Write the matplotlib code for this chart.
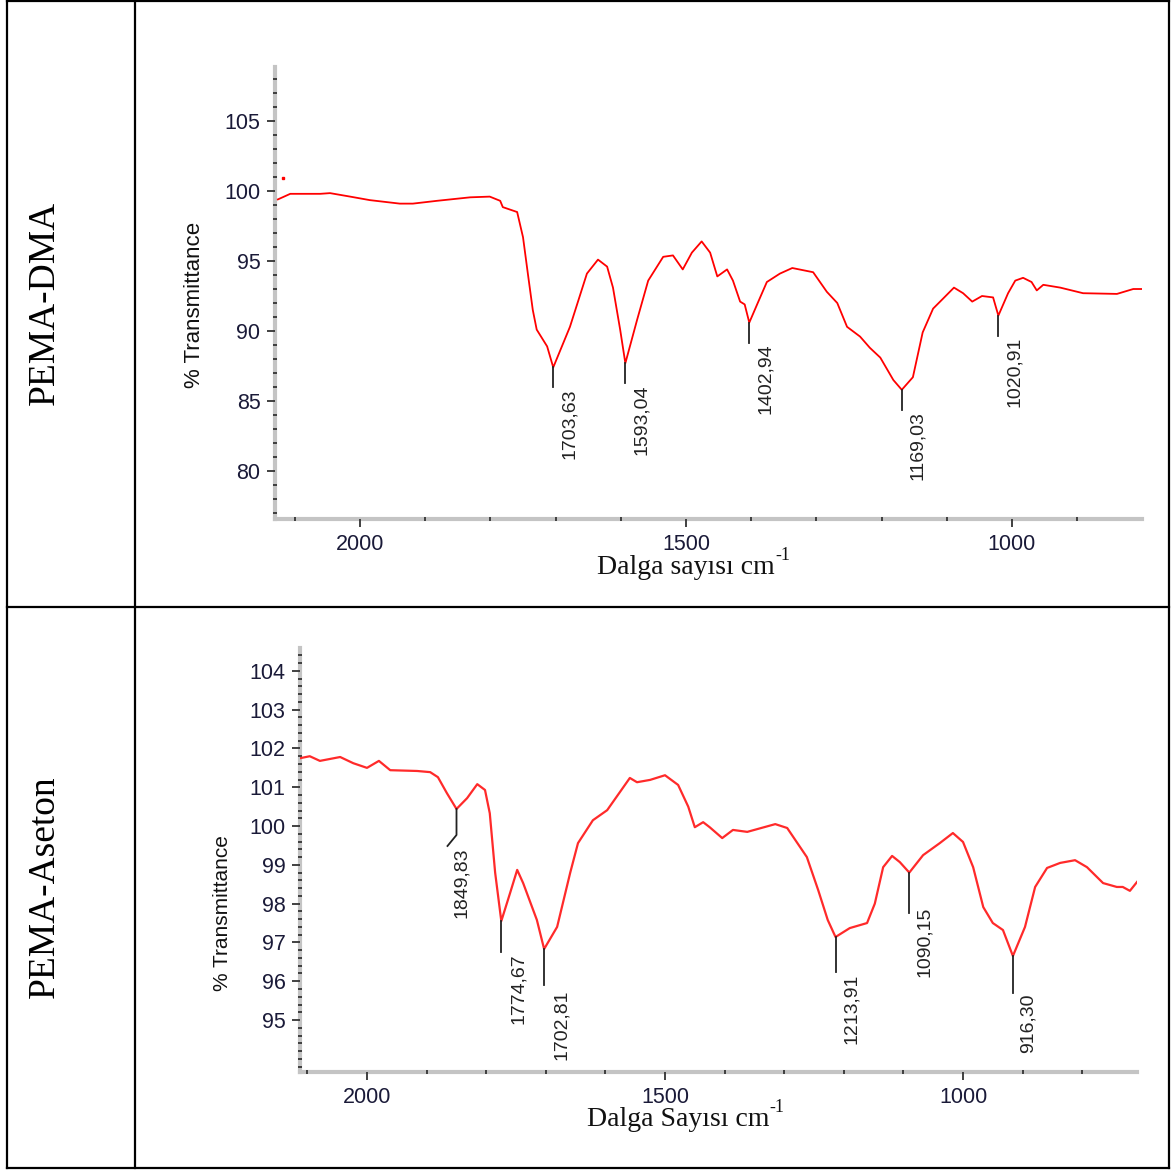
import numpy as np
import matplotlib
matplotlib.use('Agg')
import matplotlib.pyplot as plt
from matplotlib.lines import Line2D
from matplotlib.ticker import MultipleLocator, FixedLocator

plt.rcParams['font.family'] = ['Liberation Sans', 'DejaVu Sans']

# PEMA-DMA spektrumu (dalga sayisi, % gecirgenlik)
dma_wn = [2126, 2107, 2061, 2046, 2015, 1985, 1939, 1919, 1882, 1831, 1801, 1785, 1781,
          1759, 1750, 1742, 1735, 1729, 1713, 1703.63, 1678, 1652, 1635, 1621, 1612, 1601,
          1593.04, 1575, 1558, 1535, 1520, 1505, 1491, 1476, 1463, 1452, 1437, 1428, 1417,
          1410, 1402.94, 1390, 1376, 1356, 1337, 1305, 1284, 1268, 1253, 1233, 1218, 1202,
          1182, 1169.03, 1152, 1137, 1121, 1106, 1089, 1075, 1061, 1046, 1029, 1020.91,
          1006, 995, 983, 970, 962, 952, 926, 891, 839, 814, 801]
dma_T = [99.4, 99.8, 99.8, 99.85, 99.6, 99.35, 99.1, 99.1, 99.3, 99.55, 99.6, 99.3, 98.85,
         98.5, 96.7, 93.9, 91.5, 90.1, 88.9, 87.4, 90.3, 94.1, 95.1, 94.6, 93.1, 90.1,
         87.7, 90.8, 93.6, 95.3, 95.4, 94.4, 95.6, 96.4, 95.6, 93.9, 94.4, 93.6, 92.1,
         91.9, 90.6, 92.0, 93.5, 94.1, 94.5, 94.2, 92.8, 92.0, 90.3, 89.6, 88.8, 88.1,
         86.5, 85.8, 86.7, 89.9, 91.6, 92.3, 93.1, 92.7, 92.1, 92.5, 92.4, 91.1,
         92.7, 93.6, 93.8, 93.5, 92.9, 93.3, 93.1, 92.7, 92.65, 93.0, 93.0]
dma_peaks = [1703.63, 1593.04, 1402.94, 1169.03, 1020.91]
dma_dot_wn = [2118]
dma_dot_T = [100.9]

# PEMA-Aseton spektrumu
ase_wn = [2112, 2096, 2079, 2045, 2023, 2000, 1980, 1961, 1916, 1894, 1881, 1866, 1849.83,
          1832, 1815, 1802, 1794, 1785, 1774.67, 1760, 1748, 1738, 1715, 1702.81, 1681,
          1659, 1646, 1621, 1597, 1570, 1559, 1547, 1525, 1500, 1478, 1461, 1450, 1436,
          1425, 1404, 1386, 1362, 1315, 1295, 1262, 1243, 1227, 1213.91, 1190, 1161, 1148,
          1134, 1119, 1106, 1090.15, 1067, 1039, 1017, 1000, 983, 966, 950, 933, 916.30,
          896, 879, 859, 837, 812, 792, 765, 742, 732, 720, 708]
ase_T = [101.75, 101.8, 101.68, 101.78, 101.62, 101.5, 101.68, 101.44, 101.42, 101.39,
         101.26, 100.85, 100.44, 100.72, 101.08, 100.93, 100.33, 98.8, 97.55, 98.27, 98.87,
         98.53, 97.58, 96.83, 97.4, 98.8, 99.56, 100.15, 100.41, 101.0, 101.24, 101.13,
         101.19, 101.31, 101.06, 100.5, 99.97, 100.1, 99.97, 99.69, 99.9, 99.85, 100.05,
         99.95, 99.2, 98.35, 97.58, 97.14, 97.37, 97.5, 98.0, 98.94, 99.23, 99.07, 98.8,
         99.25, 99.56, 99.82, 99.59, 98.94, 97.91, 97.5, 97.32, 96.65, 97.4, 98.43, 98.92,
         99.05, 99.12, 98.94, 98.53, 98.43, 98.43, 98.33, 98.56]
ase_peaks = [1849.83, 1774.67, 1702.81, 1213.91, 1090.15, 916.30]

dma_yticks = [80, 85, 90, 95, 100, 105]
ase_yticks = [95, 96, 97, 98, 99, 100, 101, 102, 103, 104]

W, H = 1173, 1171


def box(l, t, r, b):
    return [l / W, 1 - b / H, (r - l) / W, (b - t) / H]


def style_axes(ax, yticks, yminor):
    for s in ['top', 'right']:
        ax.spines[s].set_visible(False)
    for s in ['left', 'bottom']:
        ax.spines[s].set_color('#c4c4c4')
        ax.spines[s].set_linewidth(3)
        ax.spines[s].set_zorder(1)
    ax.xaxis.set_major_locator(MultipleLocator(500))
    ax.xaxis.set_minor_locator(MultipleLocator(100))
    ax.yaxis.set_major_locator(FixedLocator(yticks))
    ax.yaxis.set_minor_locator(MultipleLocator(yminor))
    ax.tick_params(which='major', direction='out', length=5.5, width=1.3,
                   color='#333333', labelsize=15.5, labelcolor='#1a1a38', pad=5)
    ax.tick_params(which='minor', direction='inout', length=3, width=1.3, color='#333333')


def mark_peaks(ax, wn, T, peaks, leaders, shifts):
    xs = np.array(wn)[::-1]
    ys = np.array(T)[::-1]
    for p, path, (dx, dy) in zip(peaks, leaders, shifts):
        t = np.interp(p, xs, ys)
        x0, y0 = ax.transData.transform((p, t))
        pts = ax.transData.inverted().transform([(x0 + ox, y0 + oy) for ox, oy in path])
        ax.plot(pts[:, 0], pts[:, 1], color='#222222', lw=1.3, zorder=3)
        ax.annotate(f'{p:.2f}'.replace('.', ','), (p, t), xytext=(dx, dy),
                    textcoords='offset pixels', rotation=90, ha='center', va='top',
                    fontsize=14, color='#222222')


def wave_label(ax, x, y, text):
    t = fig.text(x / W, 1 - y / H, text, ha='center', va='center',
                 fontsize=20, family='Liberation Serif', color='#111111')
    ax.annotate('-1', xy=(1.0, 0.62), xycoords=t, ha='left', va='bottom',
                fontsize=13, family='Liberation Serif', color='#111111',
                annotation_clip=False)


fig = plt.figure(figsize=(W / 100, H / 100), dpi=100)

# ust grafik: PEMA-DMA
ax1 = fig.add_axes(box(275, 67, 1142, 519))
ax1.plot(dma_wn, dma_T, color='#ff0000', lw=1.3, zorder=2)
ax1.plot(dma_dot_wn, dma_dot_T, 's', color='#ff0000', ms=1.5, zorder=2)
ax1.set_xlim(2130.4, 800.6)
ax1.set_ylim(76.57, 108.86)
style_axes(ax1, dma_yticks, 1)
mark_peaks(ax1, dma_wn, dma_T, dma_peaks,
           [[(0, 0), (0, -20)]] * 5,
           [(16, -21)] * 5)

# alt grafik: PEMA-Aseton
ax2 = fig.add_axes(box(300, 648, 1137, 1072))
ax2.plot(ase_wn, ase_T, color='#ff2a2a', lw=1.6, zorder=2)
ax2.set_xlim(2112.4, 708.1)
ax2.set_ylim(93.66, 104.59)
style_axes(ax2, ase_yticks, 0.2)
mark_peaks(ax2, ase_wn, ase_T, ase_peaks,
           [[(0, 0), (0, -26), (-9, -37)], [(0, 0), (0, -31)], [(0, 0), (0, -36)],
            [(0, 0), (0, -35)], [(0, 0), (0, -40)], [(0, 0), (0, -37)]],
           [(5, -39), (17, -32), (17, -40), (16, -37), (15, -34), (15, -37)])

# eksen basliklari
fig.text(195 / W, 1 - 305 / H, '% Transmittance', rotation=90, ha='center', va='center',
         fontsize=16, family=['Liberation Sans Narrow', 'Liberation Sans'], color='#111111')
fig.text(222 / W, 1 - 913 / H, '% Transmittance', rotation=90, ha='center', va='center',
         fontsize=15, family=['Liberation Sans Narrow', 'Liberation Sans'], color='#111111')
wave_label(ax1, 686, 567, 'Dalga sayısı cm')
wave_label(ax2, 678, 1119, 'Dalga Sayısı cm')

# tablo sol sutun
fig.text(45 / W, 1 - 303 / H, 'PEMA-DMA', rotation=90, ha='center', va='center',
         fontsize=27, family='Liberation Serif')
fig.text(45 / W, 1 - 887 / H, 'PEMA-Aseton', rotation=90, ha='center', va='center',
         fontsize=27, family='Liberation Serif')

# tablo cizgileri
for x1, y1, x2, y2 in [(7, 1, 1169, 1), (7, 1168, 1169, 1168), (7, 1, 7, 1168),
                       (1169, 1, 1169, 1168), (135, 1, 135, 1168), (7, 607, 1169, 607)]:
    fig.add_artist(Line2D([x1 / W, x2 / W], [1 - y1 / H, 1 - y2 / H],
                          transform=fig.transFigure, color='black', lw=1.6))

fig.savefig('out.png', dpi=100)
